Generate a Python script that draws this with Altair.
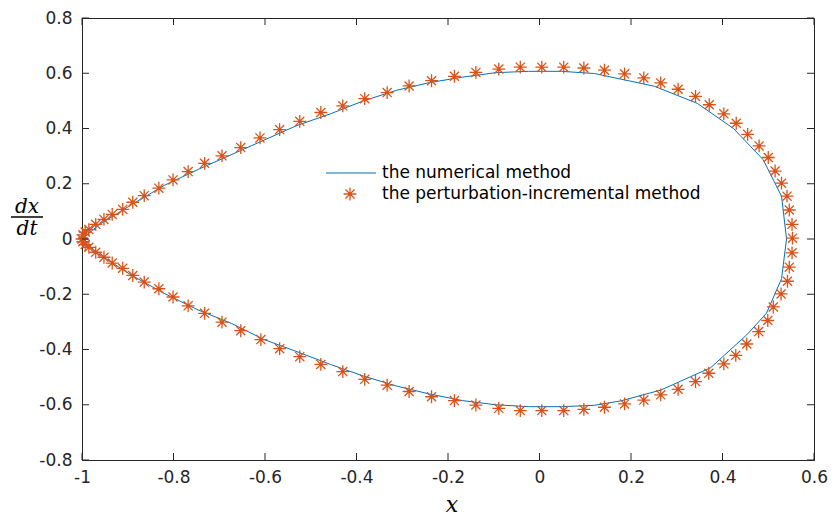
import altair as alt
import pandas as pd

# ---- data ----
num_x = [-1.000, -0.964, -0.891, -0.819, -0.746, -0.674, -0.602, -0.530, -0.457, -0.385,
         -0.313, -0.241, -0.168, -0.096, -0.024, 0.048, 0.120, 0.251, 0.345, 0.424,
         0.489, 0.529, 0.540, 0.529, 0.496, 0.453, 0.374, 0.265, 0.178, 0.120,
         0.048, -0.024, -0.096, -0.168, -0.241, -0.313, -0.385, -0.457, -0.530, -0.602,
         -0.674, -0.746, -0.819, -0.891, -0.964, -1.000]
num_y = [0.000, 0.050, 0.125, 0.195, 0.252, 0.305, 0.358, 0.411, 0.453, 0.500,
         0.538, 0.566, 0.586, 0.602, 0.607, 0.607, 0.599, 0.553, 0.491, 0.400,
         0.287, 0.155, 0.000, -0.144, -0.269, -0.347, -0.466, -0.547, -0.586, -0.602,
         -0.607, -0.607, -0.600, -0.585, -0.561, -0.532, -0.496, -0.454, -0.408, -0.364,
         -0.305, -0.257, -0.198, -0.132, -0.054, 0.000]

pert_x = [-1.000, -0.998, -0.993, -0.985, -0.970, -0.952, -0.934, -0.911, -0.889, -0.864,
          -0.832, -0.801, -0.768, -0.732, -0.694, -0.653, -0.611, -0.568, -0.524, -0.478,
          -0.430, -0.382, -0.333, -0.285, -0.236, -0.186, -0.139, -0.089, -0.042, 0.005,
          0.053, 0.097, 0.142, 0.186, 0.228, 0.265, 0.303, 0.341, 0.371, 0.403,
          0.430, 0.455, 0.480, 0.500, 0.515, 0.529, 0.541, 0.546, 0.552, 0.553,
          0.552, 0.546, 0.542, 0.528, 0.511, 0.499, 0.479, 0.453, 0.429, 0.403,
          0.370, 0.341, 0.303, 0.265, 0.228, 0.186, 0.142, 0.097, 0.053, 0.005,
          -0.042, -0.089, -0.139, -0.186, -0.236, -0.285, -0.333, -0.382, -0.430, -0.478,
          -0.524, -0.568, -0.609, -0.653, -0.694, -0.732, -0.768, -0.801, -0.832, -0.864,
          -0.889, -0.911, -0.934, -0.952, -0.970, -0.985, -0.993, -0.998]
pert_y = [0.000, 0.015, 0.025, 0.034, 0.053, 0.071, 0.089, 0.107, 0.133, 0.157,
          0.184, 0.214, 0.244, 0.274, 0.301, 0.331, 0.366, 0.396, 0.426, 0.458,
          0.482, 0.508, 0.530, 0.554, 0.573, 0.589, 0.603, 0.615, 0.622, 0.622,
          0.622, 0.619, 0.611, 0.598, 0.583, 0.565, 0.542, 0.516, 0.486, 0.453,
          0.419, 0.379, 0.337, 0.295, 0.246, 0.202, 0.155, 0.105, 0.053, 0.003,
          -0.050, -0.102, -0.153, -0.199, -0.246, -0.295, -0.335, -0.380, -0.421, -0.452,
          -0.486, -0.516, -0.544, -0.564, -0.583, -0.597, -0.609, -0.617, -0.621, -0.621,
          -0.621, -0.613, -0.601, -0.585, -0.571, -0.552, -0.529, -0.508, -0.480, -0.454,
          -0.426, -0.397, -0.364, -0.332, -0.301, -0.269, -0.242, -0.210, -0.180, -0.156,
          -0.132, -0.106, -0.087, -0.066, -0.048, -0.030, -0.020, -0.010]

x_ticks = [-1, -0.8, -0.6, -0.4, -0.2, 0, 0.2, 0.4, 0.6]
y_ticks = [-0.8, -0.6, -0.4, -0.2, 0, 0.2, 0.4, 0.6, 0.8]

legend_labels = ["the numerical method", "the perturbation-incremental method"]

# ---- styling ----
W, H = 732, 442
AX = "#262626"
BLUE = "#0072BD"
ORANGE = "#D95319"
STAR = "M-1,0L1,0M0,-1L0,1M-0.7071,-0.7071L0.7071,0.7071M-0.7071,0.7071L0.7071,-0.7071"
STAR_SIZE = 165

num_df = pd.DataFrame({"x": num_x, "y": num_y, "o": list(range(len(num_x)))})
pert_df = pd.DataFrame({"x": pert_x, "y": pert_y})
xt_df = pd.DataFrame({"v": x_ticks})
yt_df = pd.DataFrame({"v": y_ticks})

xscale = alt.Scale(domain=[-1, 0.6], nice=False, zero=False)
yscale = alt.Scale(domain=[-0.8, 0.8], nice=False, zero=False)

xaxis = alt.Axis(values=x_ticks, ticks=False, grid=False, title=None,
                 labelExpr="'' + datum.value", labelFont="DejaVu Sans", labelFontSize=17,
                 labelColor=AX, labelPadding=9, domainColor=AX, domainWidth=1,
                 labelFlush=False, labelOverlap=False)
yaxis = alt.Axis(values=y_ticks, ticks=False, grid=False, title=None,
                 labelExpr="'' + datum.value", labelFont="DejaVu Sans", labelFontSize=17,
                 labelColor=AX, labelPadding=10, domainColor=AX, domainWidth=1,
                 labelFlush=False, labelOverlap=False)

line = alt.Chart(num_df).mark_line(color=BLUE, strokeWidth=1).encode(
    x=alt.X("x:Q", scale=xscale, axis=xaxis),
    y=alt.Y("y:Q", scale=yscale, axis=yaxis),
    order="o:Q",
)

stars = alt.Chart(pert_df).mark_point(shape=STAR, filled=False, stroke=ORANGE,
                                      strokeWidth=1.3, size=STAR_SIZE, opacity=1).encode(
    x=alt.X("x:Q", scale=xscale),
    y=alt.Y("y:Q", scale=yscale),
)

tl = 7
xt_bottom = alt.Chart(xt_df).mark_rule(color=AX, strokeWidth=1).encode(
    x=alt.X("v:Q", scale=xscale), y=alt.value(H), y2=alt.value(H - tl))
xt_top = alt.Chart(xt_df).mark_rule(color=AX, strokeWidth=1).encode(
    x=alt.X("v:Q", scale=xscale), y=alt.value(0), y2=alt.value(tl))
yt_left = alt.Chart(yt_df).mark_rule(color=AX, strokeWidth=1).encode(
    y=alt.Y("v:Q", scale=yscale), x=alt.value(0), x2=alt.value(tl))
yt_right = alt.Chart(yt_df).mark_rule(color=AX, strokeWidth=1).encode(
    y=alt.Y("v:Q", scale=yscale), x=alt.value(W), x2=alt.value(W - tl))

one = pd.DataFrame({"a": [0]})

# legend (no box)
leg_line = alt.Chart(one).mark_rule(color=BLUE, strokeWidth=1).encode(
    x=alt.value(244), x2=alt.value(294), y=alt.value(155))
leg_star = alt.Chart(one).mark_point(shape=STAR, filled=False, stroke=ORANGE,
                                     strokeWidth=1.3, size=STAR_SIZE, opacity=1).encode(
    x=alt.value(268), y=alt.value(176))
leg_t1 = alt.Chart(one).mark_text(text=legend_labels[0], align="left", baseline="middle",
                                  font="DejaVu Sans", fontSize=17, color="#000000").encode(
    x=alt.value(300), y=alt.value(155))
leg_t2 = alt.Chart(one).mark_text(text=legend_labels[1], align="left", baseline="middle",
                                  font="DejaVu Sans", fontSize=17, color="#000000").encode(
    x=alt.value(300), y=alt.value(176))

# axis titles
ttl_dx = alt.Chart(one).mark_text(text="dx", align="center", baseline="alphabetic",
                                  font="DejaVu Serif", fontStyle="italic", fontSize=20,
                                  color="#000000").encode(x=alt.value(-55), y=alt.value(195))
ttl_bar = alt.Chart(one).mark_rule(color="#000000", strokeWidth=1.5).encode(
    x=alt.value(-71), x2=alt.value(-39), y=alt.value(199))
ttl_dt = alt.Chart(one).mark_text(text="dt", align="center", baseline="alphabetic",
                                  font="DejaVu Serif", fontStyle="italic", fontSize=20,
                                  color="#000000").encode(x=alt.value(-55), y=alt.value(217))
ttl_x = alt.Chart(one).mark_text(text="x", align="center", baseline="alphabetic",
                                 font="DejaVu Serif", fontStyle="italic", fontSize=22,
                                 color="#000000").encode(x=alt.value(370), y=alt.value(494))

chart = alt.layer(
    line, stars, xt_bottom, xt_top, yt_left, yt_right,
    leg_line, leg_star, leg_t1, leg_t2, ttl_dx, ttl_bar, ttl_dt, ttl_x,
).properties(
    width=W, height=H,
    autosize=alt.AutoSizeParams(type="none"),
    padding={"left": 74, "top": 10, "right": 14, "bottom": 56},
    background="white",
).configure_view(stroke=AX, strokeWidth=1)

chart.save("out.html", embed_options={"renderer": "svg", "actions": False})
